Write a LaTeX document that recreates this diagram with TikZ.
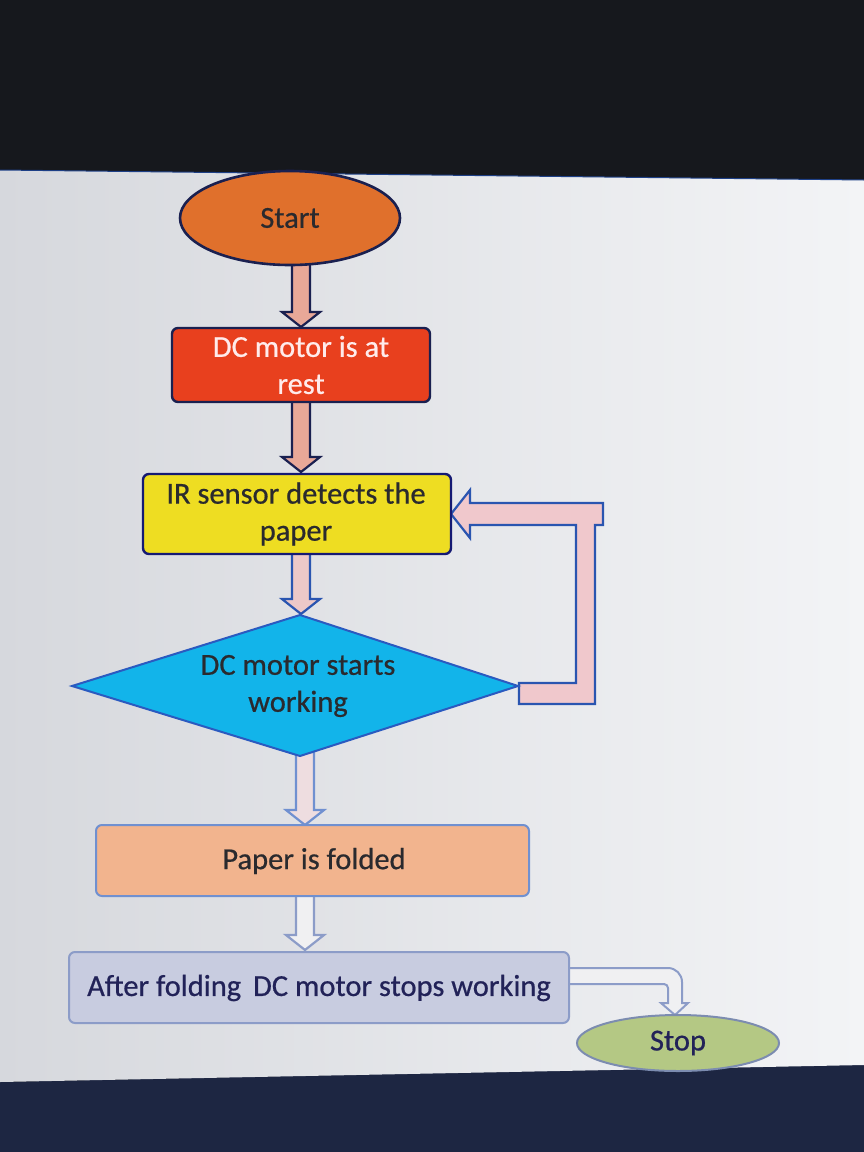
\documentclass[tikz,border=0pt]{standalone}
\usepackage{fontspec}
\setmainfont{Carlito}[FakeBold=0.6]
\usetikzlibrary{shapes.geometric}
\definecolor{topdark}{HTML}{16181D}
\definecolor{botdark}{HTML}{1D2642}
\definecolor{scrL}{HTML}{D6D8DD}
\definecolor{scrR}{HTML}{F3F4F6}
\definecolor{navy}{HTML}{1A2050}
\definecolor{startfill}{HTML}{E0702C}
\definecolor{restfill}{HTML}{E8401E}
\definecolor{irfill}{HTML}{EEDD22}
\definecolor{diafill}{HTML}{12B4EA}
\definecolor{diaedge}{HTML}{2A5AC0}
\definecolor{foldfill}{HTML}{F2B48E}
\definecolor{foldedge}{HTML}{7090D0}
\definecolor{afterfill}{HTML}{C8CCE0}
\definecolor{afteredge}{HTML}{8C9CC8}
\definecolor{stopfill}{HTML}{B4C884}
\definecolor{stopedge}{HTML}{7C8CB0}
\definecolor{arrA}{HTML}{E8A898}
\definecolor{arrB}{HTML}{ECC8C8}
\definecolor{arrC}{HTML}{EEDDE0}
\definecolor{arrD}{HTML}{F0F0F2}
\definecolor{loopfill}{HTML}{F0C8CC}
\definecolor{loopedge}{HTML}{2A55B0}
\definecolor{txt}{HTML}{2A2A2E}
\newcommand\blkdown[5]{% x, ytop, ybot, fill, draw
  \filldraw[fill=#4,draw=#5,line width=2.2pt,line join=miter]
    (#1-9,#2) -- (#1+9,#2) -- (#1+9,#3-15) -- (#1+19,#3-15) -- (#1,#3)
    -- (#1-19,#3-15) -- (#1-9,#3-15) -- cycle;}
\tikzset{
  lbl/.style={font=\fontsize{30.5}{37}\selectfont, text=txt, align=center, inner sep=0pt},
  boxstyle/.style={rounded corners=6pt, line width=2.4pt}
}
\begin{document}
\begin{tikzpicture}[x=1pt,y=-1pt]
\useasboundingbox (0,0) rectangle (864,1152);
% photo surroundings
\fill[topdark] (0,0) rectangle (864,1152);
\fill[botdark] (0,1082) -- (864,1064) -- (864,1152) -- (0,1152) -- cycle;
\shade[left color=scrL,right color=scrR] (0,170) -- (864,180) -- (864,1065) -- (0,1082) -- cycle;
\draw[color=diaedge!70!black,line width=1pt] (0,170) -- (864,180);
% block arrows (drawn under the shapes)
\blkdown{301}{258}{327}{arrA}{navy}
\blkdown{301}{398}{472}{arrA}{navy}
\blkdown{301}{552}{614}{arrB}{loopedge}
\blkdown{305}{752}{825}{arrC}{foldedge}
\blkdown{305}{894}{950}{arrD}{afteredge}
% loop arrow
\filldraw[fill=loopfill,draw=loopedge,line width=2.2pt,line join=miter]
  (519,683) -- (576,683) -- (576,525) -- (470,525) -- (470,538) -- (451,514)
  -- (470,490) -- (470,503) -- (603,503) -- (603,525) -- (595,525)
  -- (595,704) -- (519,704) -- cycle;
% bent arrow to stop
\filldraw[fill=arrD,draw=afteredge,line width=2pt,line join=miter]
  (566,968) -- (668,968) arc[start angle=270,end angle=360,radius=14] -- (682,1003)
  -- (688,1003) -- (675,1015) -- (661,1003) -- (668,1003) -- (668,988)
  arc[start angle=0,end angle=-90,radius=4] -- (566,984) -- cycle;
% shapes
\node[ellipse, draw=navy, line width=2.6pt, fill=startfill, minimum width=220pt, minimum height=94pt, inner sep=0pt] (start) at (290,218) {};
\node[lbl] at (start) {Start};
\filldraw[boxstyle, fill=restfill, draw=navy] (172,328) rectangle (430,402);
\node[lbl, text=white!92!red] (rest) at (301,365) {DC motor is at\\rest};
\filldraw[boxstyle, fill=irfill, draw=navy!80!blue] (143,474) rectangle (451,554);
\node[lbl] (ir) at (296,514) {IR sensor detects the\\paper};
\filldraw[fill=diafill, draw=diaedge, line width=2pt, line join=miter] (72,686) -- (300,615) -- (518,686) -- (300,756) -- cycle;
\node[lbl] (dia) at (298,686) {DC motor starts\\working};
\filldraw[boxstyle, fill=foldfill, draw=foldedge, line width=2pt] (96,825) rectangle (529,896);
\node[lbl] (fold) at (314,861) {Paper is folded};
\filldraw[boxstyle, fill=afterfill, draw=afteredge, line width=2pt] (69,952) rectangle (569,1023);
\node[lbl, text=txt!80!blue] (after) at (319,988) {After folding\, DC motor stops working};
\node[ellipse, draw=stopedge, line width=2pt, fill=stopfill, minimum width=202pt, minimum height=56pt, inner sep=0pt] (stop) at (678,1043) {};
\node[lbl, text=txt!80!blue] at (stop) {Stop};
\end{tikzpicture}
\end{document}
